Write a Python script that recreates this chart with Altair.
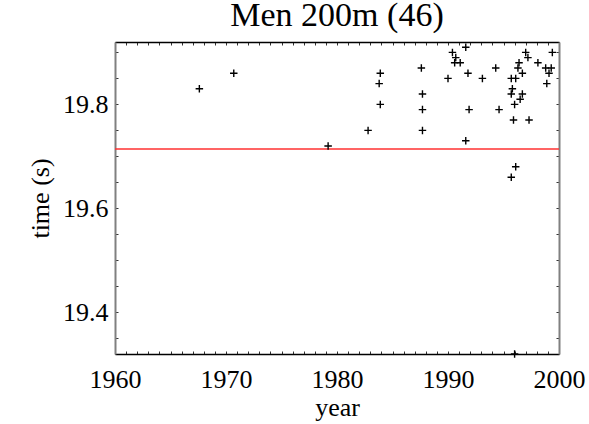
import altair as alt
import pandas as pd

# ---- data ----
years = [1967.6, 1970.7, 1979.2, 1982.8, 1983.9, 1983.8, 1983.9, 1987.6, 1987.7, 1987.7,
         1987.7, 1990.0, 1990.4, 1990.7, 1990.6, 1991.1, 1991.6, 1991.8, 1991.9, 1991.6,
         1993.1, 1994.3, 1994.6, 1995.7, 1996.1, 1995.8, 1995.7, 1996.7, 1996.5, 1996.0,
         1995.9, 1997.3, 1996.1, 1995.7, 1997.0, 1997.2, 1996.4, 1996.3, 1996.7, 1998.1,
         1998.8, 1999.3, 1999.1, 1998.9, 1999.4, 1996.0]
times = [19.83, 19.86, 19.72, 19.75, 19.86, 19.84, 19.80, 19.87, 19.82, 19.79,
         19.75, 19.85, 19.90, 19.89, 19.88, 19.88, 19.91, 19.86, 19.79, 19.73,
         19.85, 19.87, 19.79, 19.85, 19.85, 19.83, 19.82, 19.82, 19.81, 19.80,
         19.77, 19.77, 19.68, 19.66, 19.90, 19.89, 19.88, 19.87, 19.86, 19.88,
         19.87, 19.87, 19.86, 19.84, 19.90, 19.32]
ref_time = [19.714]
x_domain = [1960, 2000]
y_domain = [19.32, 19.92]
x_label_values = [1960, 1970, 1980, 1990, 2000]
y_label_values = [19.4, 19.6, 19.8]
x_tick_values = list(range(1960, 2001))
y_tick_values = [19.35, 19.40, 19.45, 19.50, 19.55, 19.60, 19.65, 19.70, 19.75, 19.80, 19.85, 19.90]
title_text = "Men 200m (46)"
x_title = "year"
y_title = "time (s)"

df = pd.DataFrame({"year": years, "time": times})
ref_df = pd.DataFrame({"t": ref_time})

W, H = 444, 312
FONT = "Liberation Serif"
PLUS = "M-1,0H1M0,-1V1"

xs = alt.Scale(domain=x_domain, nice=False, zero=False)
ys = alt.Scale(domain=y_domain, nice=False, zero=False)


def tick_axis(orient, values, offset, domain=False, domain_color="black", domain_width=1.5):
    kw = dict(orient=orient, values=values, offset=offset, labels=False, ticks=True,
              tickSize=3, tickColor="#333333", tickWidth=1, grid=False, title=None,
              domain=domain)
    if domain:
        kw.update(domainColor=domain_color, domainWidth=domain_width)
    return alt.Axis(**kw)


x_main = alt.Axis(orient="bottom", values=x_label_values, format="d", ticks=False, tickSize=0,
                  labelFont=FONT, labelFontSize=26, labelPadding=12, labelColor="black",
                  labelFlush=False, labelOverlap=False,
                  title=x_title, titleFont=FONT, titleFontSize=26, titleFontWeight="normal",
                  titleColor="black", titlePadding=2,
                  domainColor="black", domainWidth=1.5, grid=False)
y_main = alt.Axis(orient="left", values=y_label_values, format=".1f", ticks=False, tickSize=0,
                  labelFont=FONT, labelFontSize=26, labelPadding=7, labelColor="black",
                  labelFlush=False, labelOverlap=False,
                  title=y_title, titleFont=FONT, titleFontSize=26, titleFontWeight="normal",
                  titleColor="black", titlePadding=9,
                  domainColor="#808080", domainWidth=2, grid=False)

points = alt.Chart(df).mark_point(shape=PLUS, size=56, filled=False, color="black",
                                  strokeWidth=1.4, opacity=1).encode(
    x=alt.X("year:Q", scale=xs, axis=x_main),
    y=alt.Y("time:Q", scale=ys, axis=y_main),
)

# inward ticks at the bottom and left edges
ticks_a = alt.Chart(df).mark_point(opacity=0).encode(
    x=alt.X("year:Q", scale=xs, axis=tick_axis("top", x_tick_values, -H)),
    y=alt.Y("time:Q", scale=ys, axis=tick_axis("right", y_tick_values, -W)),
)
# inward ticks (and frame) at the top and right edges
ticks_b = alt.Chart(df).mark_point(opacity=0).encode(
    x=alt.X("year:Q", scale=xs, axis=tick_axis("bottom", x_tick_values, -H, True, "black", 1.5)),
    y=alt.Y("time:Q", scale=ys, axis=tick_axis("left", y_tick_values, -W, True, "#808080", 2)),
)

rule = alt.Chart(ref_df).mark_rule(color="#ff3030", strokeWidth=1.5).encode(
    y=alt.Y("t:Q", scale=ys, axis=None)
)

chart = alt.layer(rule, ticks_a, ticks_b, points).resolve_axis(
    x="independent", y="independent"
).properties(
    width=W, height=H,
    title=alt.TitleParams(title_text, font=FONT, fontSize=34, fontWeight="normal",
                          color="black", anchor="middle", baseline="alphabetic",
                          offset=15, dy=34),
    autosize=alt.AutoSizeParams(type="none"),
    padding={"left": 115, "top": 42, "right": 30, "bottom": 70},
).configure_view(stroke=None).configure(background="white")

chart.save("out.html", embed_options={"renderer": "svg", "actions": False})
